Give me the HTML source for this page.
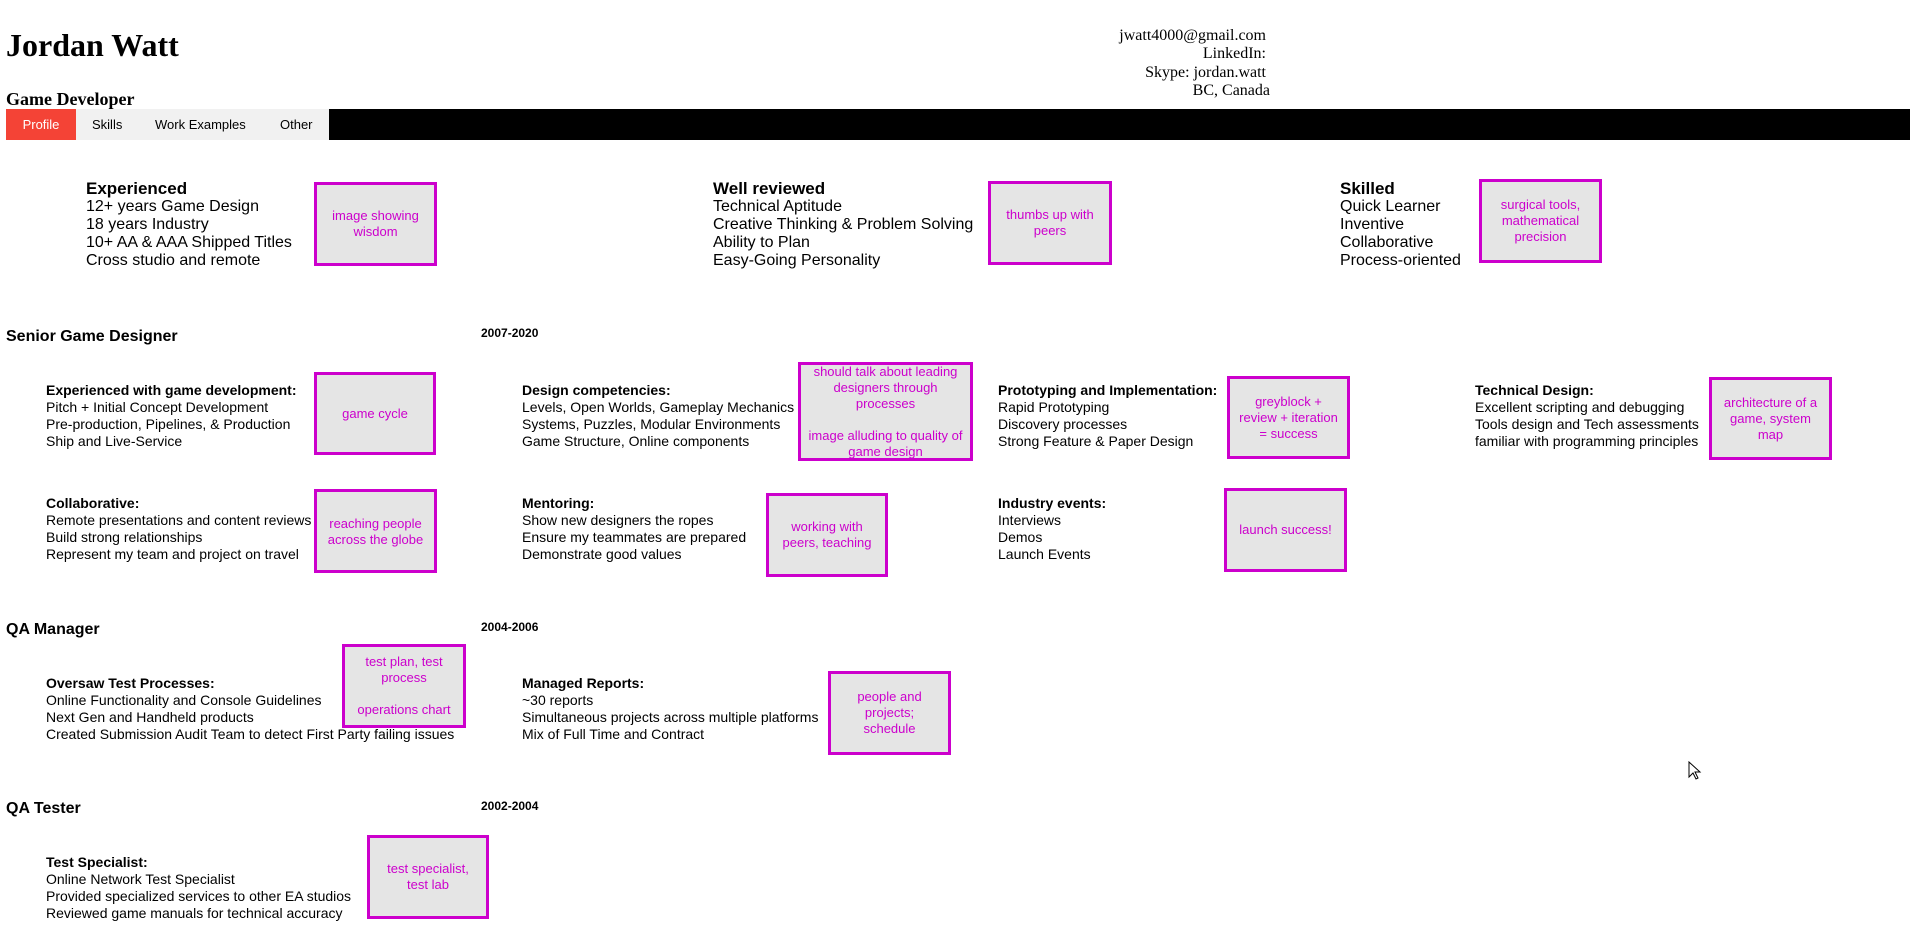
<!DOCTYPE html>
<html><head><meta charset="utf-8"><style>
*{margin:0;padding:0;box-sizing:border-box}
body{width:1910px;height:943px;position:relative;background:#fff;overflow:hidden;font-family:"Liberation Sans",Arial,sans-serif;color:#000}
.a{position:absolute;white-space:nowrap}
.serif{font-family:"Liberation Serif","Times New Roman",serif}
.box{position:absolute;border:3px solid #cc00cc;background:#e5e5e5;color:#cc00cc;font-size:13px;line-height:16px;display:flex;align-items:center;justify-content:center;text-align:center;padding:0 3px}
.it{position:absolute;font-size:14px;line-height:17px;white-space:nowrap}
.it b{display:block}
.top{position:absolute;font-size:16px;line-height:18px;white-space:nowrap}
.top b{font-size:17px;display:block}
.sec{position:absolute;font-size:16px;font-weight:bold;line-height:18px}
.dt{position:absolute;font-size:12px;font-weight:bold;line-height:14px}
</style></head><body>
<div class="a serif" style="left:6px;top:26px;font-size:32px;font-weight:bold;line-height:38px">Jordan Watt</div>
<div class="a serif" style="left:6px;top:88px;font-size:18px;font-weight:bold;line-height:22px">Game Developer</div>
<div class="a serif" style="right:640px;top:27px;font-size:16px;line-height:18.3px;text-align:right">jwatt4000@gmail.com&nbsp;<br>LinkedIn:&nbsp;<br>Skype: jordan.watt&nbsp;<br>BC, Canada</div>
<div style="position:absolute;left:6px;top:109px;width:1904px;height:31px;background:#000"></div>
<div style="position:absolute;left:6px;top:109px;width:323px;height:31px;background:#f1f1f1"></div>
<div style="position:absolute;left:6px;top:109px;width:70px;height:31px;background:#f44336"></div>
<div class="a" style="left:6px;top:109px;width:70px;line-height:31px;font-size:13px;color:#fff;text-align:center">Profile</div>
<div class="a" style="left:92px;top:109px;line-height:31px;font-size:13px">Skills</div>
<div class="a" style="left:155px;top:109px;line-height:31px;font-size:13px">Work Examples</div>
<div class="a" style="left:280px;top:109px;line-height:31px;font-size:13px">Other</div>

<div class="top" style="left:86px;top:180px"><b>Experienced</b>12+ years Game Design<br>18 years Industry<br>10+ AA &amp; AAA Shipped Titles<br>Cross studio and remote</div>
<div class="box" style="left:314px;top:182px;width:123px;height:84px">image showing<br>wisdom</div>
<div class="top" style="left:713px;top:180px"><b>Well reviewed</b>Technical Aptitude<br>Creative Thinking &amp; Problem Solving<br>Ability to Plan<br>Easy-Going Personality</div>
<div class="box" style="left:988px;top:181px;width:124px;height:84px">thumbs up with<br>peers</div>
<div class="top" style="left:1340px;top:180px"><b>Skilled</b>Quick Learner<br>Inventive<br>Collaborative<br>Process-oriented</div>
<div class="box" style="left:1479px;top:179px;width:123px;height:84px">surgical tools,<br>mathematical<br>precision</div>

<div class="sec" style="left:6px;top:328px">Senior Game Designer</div>
<div class="dt" style="left:481px;top:326px">2007-2020</div>
<div class="it" style="left:46px;top:382px"><b>Experienced with game development:</b>Pitch + Initial Concept Development<br>Pre-production, Pipelines, &amp; Production<br>Ship and Live-Service</div>
<div class="box" style="left:314px;top:372px;width:122px;height:83px">game cycle</div>
<div class="it" style="left:522px;top:382px"><b>Design competencies:</b>Levels, Open Worlds, Gameplay Mechanics<br>Systems, Puzzles, Modular Environments<br>Game Structure, Online components</div>
<div class="box" style="left:798px;top:362px;width:175px;height:99px">should talk about leading designers through processes<br><br>image alluding to quality of game design</div>
<div class="it" style="left:998px;top:382px"><b>Prototyping and Implementation:</b>Rapid Prototyping<br>Discovery processes<br>Strong Feature &amp; Paper Design</div>
<div class="box" style="left:1227px;top:376px;width:123px;height:83px">greyblock +<br>review + iteration<br>= success</div>
<div class="it" style="left:1475px;top:382px"><b>Technical Design:</b>Excellent scripting and debugging<br>Tools design and Tech assessments<br>familiar with programming principles</div>
<div class="box" style="left:1709px;top:377px;width:123px;height:83px">architecture of a<br>game, system<br>map</div>

<div class="it" style="left:46px;top:495px"><b>Collaborative:</b>Remote presentations and content reviews<br>Build strong relationships<br>Represent my team and project on travel</div>
<div class="box" style="left:314px;top:489px;width:123px;height:84px;align-items:flex-start;padding-top:24px">reaching people<br>across the globe</div>
<div class="it" style="left:522px;top:495px"><b>Mentoring:</b>Show new designers the ropes<br>Ensure my teammates are prepared<br>Demonstrate good values</div>
<div class="box" style="left:766px;top:493px;width:122px;height:84px">working with<br>peers, teaching</div>
<div class="it" style="left:998px;top:495px"><b>Industry events:</b>Interviews<br>Demos<br>Launch Events</div>
<div class="box" style="left:1224px;top:488px;width:123px;height:84px">launch success!</div>

<div class="sec" style="left:6px;top:621px">QA Manager</div>
<div class="dt" style="left:481px;top:620px">2004-2006</div>
<div class="it" style="left:46px;top:675px"><b>Oversaw Test Processes:</b>Online Functionality and Console Guidelines<br>Next Gen and Handheld products<br>Created Submission Audit Team to detect First Party failing issues</div>
<div class="box" style="left:342px;top:644px;width:124px;height:84px">test plan, test<br>process<br><br>operations chart</div>
<div class="it" style="left:522px;top:675px"><b>Managed Reports:</b>~30 reports<br>Simultaneous projects across multiple platforms<br>Mix of Full Time and Contract</div>
<div class="box" style="left:828px;top:671px;width:123px;height:84px">people and<br>projects;<br>schedule</div>

<div class="sec" style="left:6px;top:800px">QA Tester</div>
<div class="dt" style="left:481px;top:799px">2002-2004</div>
<div class="it" style="left:46px;top:854px"><b>Test Specialist:</b>Online Network Test Specialist<br>Provided specialized services to other EA studios<br>Reviewed game manuals for technical accuracy</div>
<div class="box" style="left:367px;top:835px;width:122px;height:84px">test specialist,<br>test lab</div>

<svg style="position:absolute;left:1688px;top:761px" width="14" height="20" viewBox="0 0 14 20"><path d="M1 1 L1 16 L5 12 L8 18 L10 17 L7 11 L12 11 Z" fill="#fff" stroke="#000" stroke-width="1"/></svg>
</body></html>
